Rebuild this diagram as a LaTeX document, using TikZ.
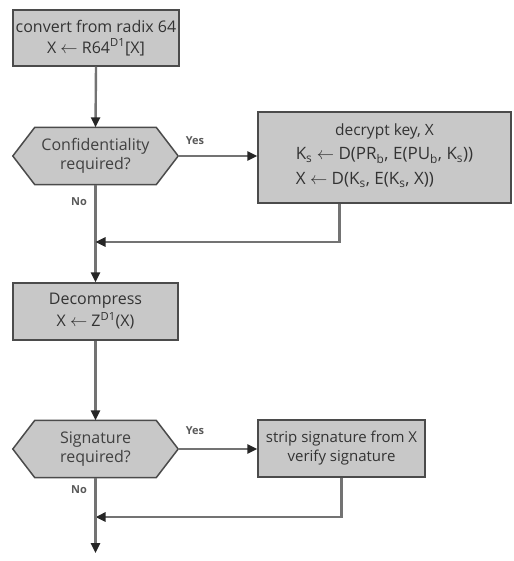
\documentclass[tikz,border=0pt]{standalone}
\usepackage{fontspec}
\setmainfont{Open Sans}
\usetikzlibrary{arrows.meta,calc,backgrounds}
\definecolor{boxfill}{RGB}{200,200,200}
\definecolor{boxline}{RGB}{75,75,75}
\definecolor{connline}{RGB}{115,115,115}
\begin{document}
\begin{tikzpicture}[x=1pt,y=-1pt,
  box/.style={draw=boxline, fill=boxfill, line width=1.5pt, align=center,
    font=\fontsize{16}{19}\selectfont, inner sep=0pt, text=black!80},
  hexnode/.style={align=center, font=\fontsize{16}{19}\selectfont, inner sep=0pt,
    minimum width=165, minimum height=57, text=black!75},
  hexshape/.style={draw=boxline, fill=boxfill, line width=1.5pt},
  conn/.style={draw=connline, line width=2.4pt},
  arr/.style={conn, -{Triangle[length=10pt,width=9pt,color=black!85]}},
  lbl/.style={font=\bfseries\fontsize{11}{12}\selectfont, text=black!65}
]
\useasboundingbox (0,0) rectangle (513,561);

\node[box, minimum width=166, minimum height=56] (b1) at (96,38)
  {convert from radix 64\\[1.5pt]X $\leftarrow$ R64\textsuperscript{D1}[X]};

\node[hexnode] (h1) at (95.5,156) {Confidentiality\\required?};

\node[box, minimum width=253, minimum height=91, font=\fontsize{15.5}{17}\selectfont] (b2) at (384.5,157.5)
  {decrypt key, X\\[5pt]
   {\fontsize{17}{21}\selectfont\begin{tabular}{@{}l@{}}
   K\textsubscript{s} $\leftarrow$ D(PR\textsubscript{b}, E(PU\textsubscript{b}, K\textsubscript{s}))\\[4pt]
   X $\leftarrow$ D(K\textsubscript{s}, E(K\textsubscript{s}, X))
   \end{tabular}}};

\node[box, minimum width=165, minimum height=57] (b3) at (95.5,311.5)
  {Decompress\\[3pt]X $\leftarrow$ Z\textsuperscript{D1}(X)};

\node[hexnode] (h2) at (95.5,449) {Signature\\required?};

\node[box, minimum width=167, minimum height=57, font=\fontsize{15}{19}\selectfont] (b4) at (341.5,448.5)
  {strip signature from X\\verify signature};

\begin{scope}[on background layer]
  \foreach \h in {h1,h2}{
    \path[hexshape] (\h.west) -- ([xshift=22]\h.north west) -- ([xshift=-22]\h.north east)
      -- (\h.east) -- ([xshift=-22]\h.south east) -- ([xshift=22]\h.south west) -- cycle;
  }
\end{scope}

\node[lbl] (y1) at (195,141) {Yes};
\node[lbl] (n1) at (79,202) {No};
\node[lbl] (y2) at (195,431) {Yes};
\node[lbl] (n2) at (79,490) {No};

\coordinate (j1) at (95.5,242);
\coordinate (j2) at (95.5,517);
\coordinate (end) at (95.5,553);

\draw[arr] (b1.south) -- (h1.north);
\draw[arr] (h1.east) -- (h1.east -| b2.west);
\draw[conn] (h1.south) -- (j1);
\draw[arr] (j1) -- (b3.north);
\draw[arr] ([xshift=-45]b2.south) |- (j1);
\draw[arr] (b3.south) -- (h2.north);
\draw[arr] (h2.east) -- (h2.east -| b4.west);
\draw[arr] (b4.south) |- (j2);
\draw[arr] (h2.south) -- (end);
\end{tikzpicture}
\end{document}
